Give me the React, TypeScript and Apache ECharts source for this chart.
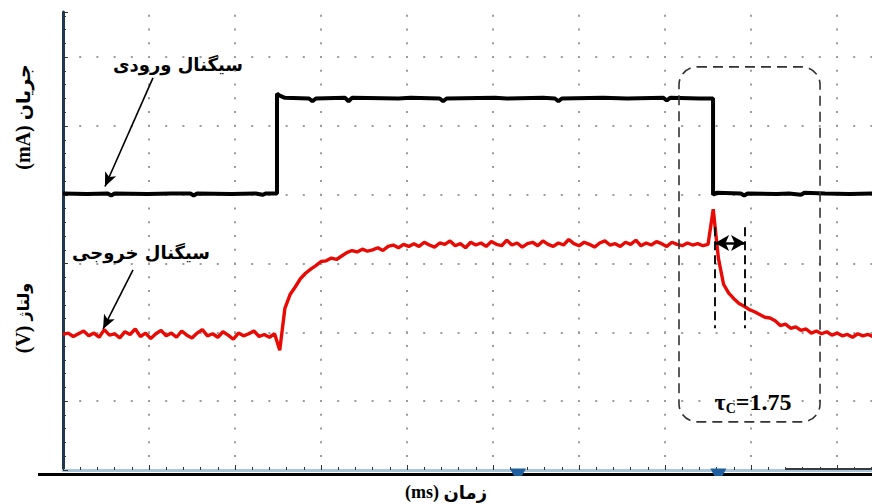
import React, { useEffect, useRef } from "react";
import * as echarts from "echarts";

// time axis: 5 ms per division; vertical axis in screen divisions
const X_MAX = 47.03;
const Y_MAX = 6.657;
const SAMPLE_MS = 0.3;

// output signal (red), one sample every SAMPLE_MS
const redLevels = [
  1.97, 1.99, 1.94, 1.98, 2.02, 1.95, 1.99, 1.93, 2.04, 1.96,
  1.98, 1.92, 2.01, 1.97, 2.05, 1.94, 1.99, 1.91, 1.98, 2.03,
  1.95, 1.99, 1.93, 2.02, 1.96, 1.92, 1.99, 2.04, 1.95, 1.98,
  1.93, 2.01, 1.96, 1.9, 1.99, 1.95, 1.98, 2.02, 1.94, 1.97,
  1.93, 1.98,
  1.74, 2.35, 2.55, 2.66, 2.78, 2.86, 2.92, 2.97, 3.03, 3.04,
  3.08, 3.06, 3.11, 3.16, 3.19, 3.17, 3.21, 3.18, 3.2, 3.23,
  3.19, 3.25, 3.27, 3.23, 3.28, 3.25,
  3.29, 3.25, 3.31, 3.27, 3.24, 3.3, 3.28, 3.33, 3.26, 3.29,
  3.23, 3.31, 3.27, 3.3, 3.25, 3.32, 3.28, 3.26, 3.34, 3.27,
  3.3, 3.24, 3.29, 3.31, 3.26, 3.33, 3.28, 3.25, 3.3, 3.27,
  3.35, 3.29, 3.26, 3.31, 3.28, 3.24, 3.3, 3.33, 3.27, 3.29,
  3.25, 3.31, 3.28, 3.34, 3.26, 3.3, 3.27, 3.32, 3.29, 3.25,
  3.31, 3.28, 3.26, 3.3, 3.27, 3.29, 3.26, 3.28,
  3.79, 3.08, 2.7, 2.57, 2.49, 2.42, 2.38, 2.33, 2.3, 2.26,
  2.22, 2.21, 2.17, 2.1, 2.12, 2.06, 2.08, 2.03, 2.05, 1.99,
  2.02, 1.98, 2.01, 1.96, 1.99, 1.95, 1.97, 1.93, 1.98, 1.95,
  1.97, 1.94,
];

// input signal (black): [time ms, level]
const blackTrace: [number, number][] = [
  [0, 4.02], [1.4, 4.01], [2.6, 4.02], [2.8, 3.99], [3.0, 4.02], [4.9, 4.01], [6.3, 4.02],
  [7.4, 4.02], [7.6, 3.99], [7.8, 4.02], [9.8, 4.01], [11.2, 4.02], [11.6, 4.0], [11.8, 4.02],
  [12.44, 4.02],
  [12.44, 5.47], [12.6, 5.44], [12.9, 5.41], [14.3, 5.4], [14.5, 5.36], [14.7, 5.4],
  [16.4, 5.41], [16.6, 5.36], [16.8, 5.41], [19.5, 5.4], [20.2, 5.41], [21.9, 5.4],
  [22.1, 5.36], [22.3, 5.4], [25.1, 5.41], [25.8, 5.4], [27.9, 5.41], [28.6, 5.4],
  [28.8, 5.36], [29.0, 5.4], [31.4, 5.41], [32.8, 5.4], [34.9, 5.41], [35.1, 5.37],
  [35.3, 5.41], [37.0, 5.4], [37.79, 5.4],
  [37.79, 4.0], [38.0, 4.03], [39.4, 4.02], [39.6, 3.99], [39.8, 4.02], [41.5, 4.01],
  [42.2, 4.02], [42.9, 4.0], [43.1, 4.03], [44.3, 4.02], [45.7, 4.01], [47.1, 4.02],
];

// annotations (data coordinates)
const inputArrow: [number, number][] = [[5.23, 5.7], [2.44, 4.12]];
const outputArrow: [number, number][] = [[4.07, 2.91], [2.33, 2.05]];
const tauStart = 37.91;
const tauEnd = 39.65;
const tauLevel = 3.3;
const tauTop = 3.53;
const tauBottom = 2.06;
const boxX: [number, number] = [35.81, 44.01];
const boxY: [number, number] = [5.86, 0.7];
const triggerMarks = [26.45, 38.1];

const inputLabel = "سیگنال ورودی";
const outputLabel = "سیگنال خروجی";
const currentName = "جریان";
const currentUnit = "(mA)";
const voltageName = "ولتاژ";
const voltageUnit = "(V)";
const timeName = "زمان";
const timeUnit = "(ms)";
const tauValue = "=1.75";

export default function App() {
  const ref = useRef<HTMLDivElement>(null);
  useEffect(() => {
    const chart = echarts.init(ref.current!, null, { renderer: "svg" });
    const redData = redLevels.map((v, i) => [+(i * SAMPLE_MS).toFixed(2), v]);
    chart.setOption({
      animation: false,
      backgroundColor: "#ffffff",
      grid: { left: 63, right: 0, top: 12, bottom: 34 },
      xAxis: {
        type: "value",
        min: 0,
        max: X_MAX,
        interval: 5,
        axisLabel: { show: false },
        axisLine: { show: true, onZero: false, lineStyle: { color: "#a9c5d9", width: 3 } },
        axisTick: { show: true, inside: true, length: 5, lineStyle: { color: "#333", width: 1 } },
        minorTick: { show: true, splitNumber: 5, length: 3, lineStyle: { color: "#333", width: 1 } },
        splitLine: {
          show: true,
          showMinLine: false,
          showMaxLine: false,
          lineStyle: { color: "#9c9c9c", width: 2, type: [2, 11.76], dashOffset: 10.8 },
        },
      },
      yAxis: {
        type: "value",
        min: 0,
        max: Y_MAX,
        interval: 1,
        axisLabel: { show: false },
        axisLine: { show: true, lineStyle: { color: "#1d3850", width: 3 } },
        axisTick: { show: true, inside: true, length: 5, lineStyle: { color: "#333", width: 1 } },
        minorTick: { show: true, splitNumber: 5, length: 3, lineStyle: { color: "#333", width: 1 } },
        splitLine: {
          show: true,
          showMinLine: false,
          showMaxLine: false,
          lineStyle: { color: "#9c9c9c", width: 2, type: [2, 15.2], dashOffset: 1 },
        },
      },
      series: [
        {
          type: "line",
          data: blackTrace,
          symbol: "none",
          lineStyle: { color: "#000", width: 4 },
          z: 3,
        },
        {
          type: "line",
          data: redData,
          symbol: "none",
          lineStyle: { color: "#e80a05", width: 3.4 },
          z: 4,
        },
        {
          type: "line",
          data: [],
          markLine: {
            silent: true,
            symbol: ["none", "arrow"],
            symbolSize: [9, 14],
            label: { show: false },
            lineStyle: { color: "#000", width: 1.6, type: "solid" },
            data: [
              [{ coord: inputArrow[0] }, { coord: inputArrow[1] }],
              [{ coord: outputArrow[0] }, { coord: outputArrow[1] }],
            ],
          },
          z: 6,
        },
        {
          type: "line",
          data: [],
          markLine: {
            silent: true,
            symbol: ["none", "none"],
            label: { show: false },
            lineStyle: { color: "#111", width: 2, type: [9, 5] },
            data: [
              [{ coord: [tauStart, tauTop] }, { coord: [tauStart, tauBottom] }],
              [{ coord: [tauEnd, tauTop] }, { coord: [tauEnd, tauBottom] }],
            ],
          },
          z: 6,
        },
        {
          type: "line",
          data: [],
          markLine: {
            silent: true,
            symbol: ["arrow", "arrow"],
            symbolSize: [12, 14],
            label: { show: false },
            lineStyle: { color: "#000", width: 2.5, type: "solid" },
            data: [[{ coord: [tauStart, tauLevel] }, { coord: [tauEnd, tauLevel] }]],
          },
          z: 7,
        },
      ],
    });

    const px = (x: number, y: number) => chart.convertToPixel({ gridIndex: 0 }, [x, y]) as number[];
    const b0 = px(boxX[0], boxY[0]);
    const b1 = px(boxX[1], boxY[1]);
    const axisY = px(0, 0)[1];
    const persian = '"DejaVu Sans", sans-serif';
    const serif = '"Liberation Serif", serif';

    const axisNameRich = (fa: number, unit: number) => ({
      u: { font: `bold ${unit}px ${serif}`, fill: "#000", lineHeight: 24 },
      p: { font: `bold ${fa}px ${persian}`, fill: "#000", lineHeight: 24 },
    });

    const graphic: any[] = [
      {
        type: "line",
        shape: { x1: 38, y1: axisY + 4.5, x2: 872, y2: axisY + 4.5 },
        style: { stroke: "#000", lineWidth: 3 },
        z: 10,
      },
      {
        type: "line",
        shape: { x1: 785, y1: axisY - 1, x2: 872, y2: axisY - 1 },
        style: { stroke: "#3a3a3a", lineWidth: 2 },
        z: 10,
      },
      ...triggerMarks.map((t) => {
        const cx = px(t, 0)[0];
        return {
          type: "polygon",
          shape: {
            points: [
              [cx - 8, axisY - 1.5],
              [cx + 8, axisY - 1.5],
              [cx + 4, axisY + 6],
              [cx - 4, axisY + 6],
            ],
          },
          style: { fill: "#1f5f9e" },
          z: 11,
        };
      }),
      {
        type: "rect",
        shape: { x: b0[0], y: b0[1], width: b1[0] - b0[0], height: b1[1] - b0[1], r: 18 },
        style: { fill: "none", stroke: "#333", lineWidth: 1.6, lineDash: [10, 6] },
        z: 8,
      },
      {
        type: "text",
        x: 178,
        y: 64,
        style: {
          text: inputLabel,
          fill: "#000",
          font: `bold 18px ${persian}`,
          textAlign: "center",
          textVerticalAlign: "middle",
        },
        z: 12,
      },
      {
        type: "text",
        x: 141,
        y: 252,
        style: {
          text: outputLabel,
          fill: "#000",
          font: `bold 18px ${persian}`,
          textAlign: "center",
          textVerticalAlign: "middle",
        },
        z: 12,
      },
      {
        type: "text",
        x: 23,
        y: 117,
        rotation: Math.PI / 2,
        style: {
          text: `{u|${currentUnit} }{p|${currentName}}`,
          rich: axisNameRich(19, 20),
          textAlign: "center",
          textVerticalAlign: "middle",
        },
        z: 12,
      },
      {
        type: "text",
        x: 23,
        y: 318,
        rotation: Math.PI / 2,
        style: {
          text: `{u|${voltageUnit} }{p|${voltageName}}`,
          rich: axisNameRich(16, 20),
          textAlign: "center",
          textVerticalAlign: "middle",
        },
        z: 12,
      },
      {
        type: "text",
        x: 446,
        y: 492,
        style: {
          text: `{u|${timeUnit} }{p|${timeName}}`,
          rich: axisNameRich(18, 18),
          textAlign: "center",
          textVerticalAlign: "middle",
        },
        z: 12,
      },
      {
        type: "text",
        x: 753,
        y: 402,
        style: {
          text: `{a|τ}{b|C}{a|${tauValue}}`,
          textAlign: "center",
          textVerticalAlign: "middle",
          rich: {
            a: { font: `bold 24px ${serif}`, fill: "#000", lineHeight: 26 },
            b: {
              font: `bold 14px ${serif}`,
              fill: "#000",
              lineHeight: 14,
              verticalAlign: "bottom",
            },
          },
        },
        z: 12,
      },
    ];
    chart.setOption({ graphic });
    return () => chart.dispose();
  }, []);
  return (
    <div
      ref={ref}
      style={{ position: "fixed", left: 0, top: 0, width: 872, height: 504, background: "#fff" }}
    />
  );
}
